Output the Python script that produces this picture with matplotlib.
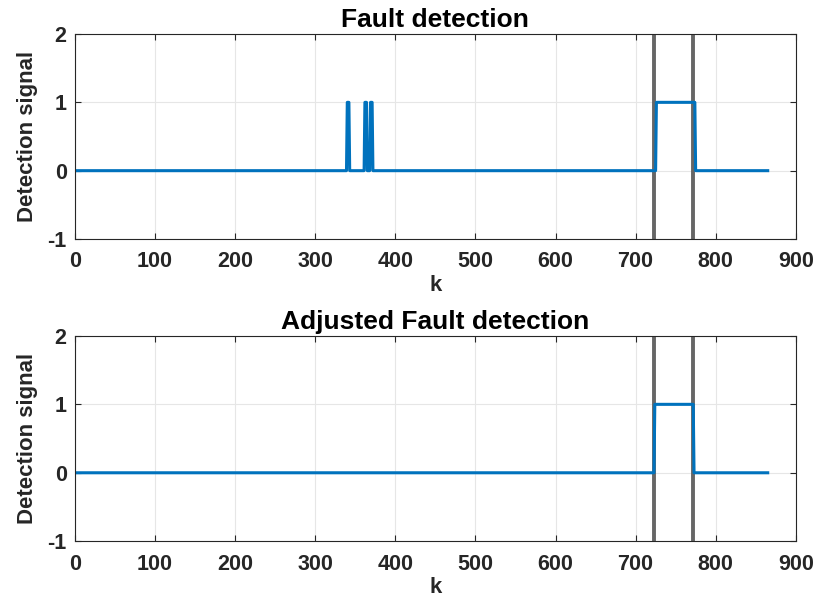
import matplotlib
matplotlib.use('Agg')
import matplotlib.pyplot as plt

plt.rcParams['font.family'] = ['Liberation Sans', 'DejaVu Sans']
plt.rcParams['font.weight'] = 'bold'
plt.rcParams['axes.unicode_minus'] = False

# breakpoints of the step signals (k, value)
k_top = [1, 339, 340, 342, 343, 361, 362, 364, 365, 368, 369, 371, 372, 725, 726, 774, 775, 865]
y_top = [0, 0, 1, 1, 0, 0, 1, 1, 0, 0, 1, 1, 0, 0, 1, 1, 0, 0]
k_bot = [1, 723, 724, 772, 773, 865]
y_bot = [0, 0, 1, 1, 0, 0]

fault_top = [723, 772]
fault_bot = [723, 772]

titles = ['Fault detection', 'Adjusted Fault detection']
xticks = [0, 100, 200, 300, 400, 500, 600, 700, 800, 900]
yticks = [-1, 0, 1, 2]

fig = plt.figure(figsize=(8.19, 6.02), dpi=100)
ax1 = fig.add_axes([0.0916, 0.603, 0.880, 0.3405])
ax2 = fig.add_axes([0.0916, 0.101, 0.880, 0.341])

for ax, kk, yy, fl, t in [(ax1, k_top, y_top, fault_top, titles[0]),
                          (ax2, k_bot, y_bot, fault_bot, titles[1])]:
    for f in fl:
        ax.axvline(f, color='#666666', lw=2.8, zorder=1)
    ax.plot(kk, yy, color='#0072BD', lw=2.2, zorder=2)
    ax.set_xlim(0, 900)
    ax.set_ylim(-1, 2)
    ax.set_xticks(xticks)
    ax.set_yticks(yticks)
    ax.grid(True, color='#e6e6e6', lw=0.8)
    ax.set_axisbelow(True)
    ax.tick_params(direction='in', labelsize=15.5, length=4, color='#262626',
                   top=True, right=True)
    ax.tick_params(axis='x', pad=9)
    ax.tick_params(axis='y', pad=6)
    for lab in ax.get_xticklabels() + ax.get_yticklabels():
        lab.set_fontweight('bold')
        lab.set_color('#262626')
    for s in ax.spines.values():
        s.set_color('#262626')
        s.set_linewidth(0.8)
    ax.set_title(t, fontsize=19, fontweight='bold', pad=5, color='black')
    ax.set_xlabel('k', fontsize=16, fontweight='bold', labelpad=2, color='#262626')
    ax.set_ylabel('Detection signal', fontsize=16, fontweight='bold', labelpad=7, color='#262626')

fig.savefig('out.png', dpi=100)
